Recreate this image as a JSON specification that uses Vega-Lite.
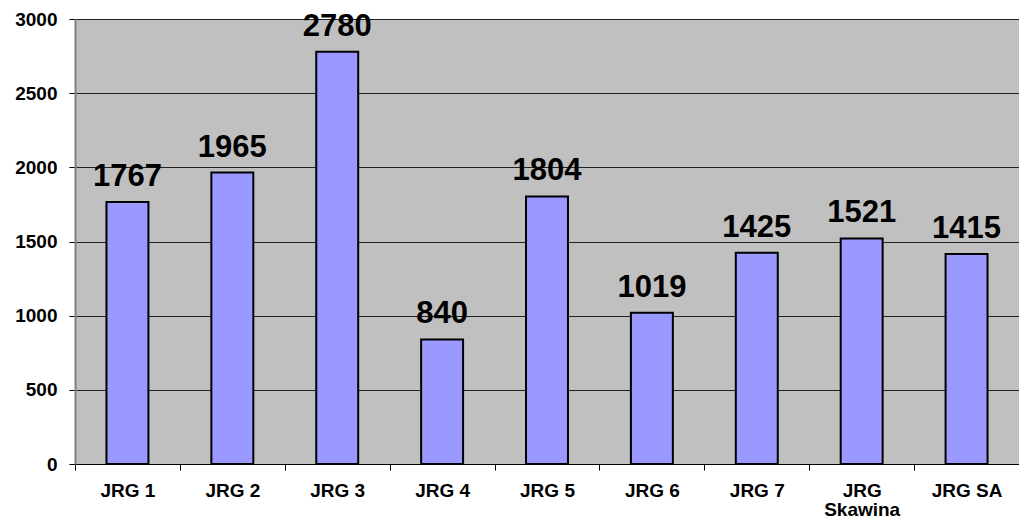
{
  "$schema": "https://vega.github.io/schema/vega-lite/v6.json",
  "width": 944,
  "height": 445,
  "autosize": "none",
  "padding": {"left": 75, "top": 19, "right": 0, "bottom": 63},
  "background": "white",
  "config": {
    "view": {"fill": "#C0C0C0", "stroke": null},
    "font": "Liberation Sans"
  },
  "data": {
    "values": [
      {"jrg": "JRG 1", "value": 1767},
      {"jrg": "JRG 2", "value": 1965},
      {"jrg": "JRG 3", "value": 2780},
      {"jrg": "JRG 4", "value": 840},
      {"jrg": "JRG 5", "value": 1804},
      {"jrg": "JRG 6", "value": 1019},
      {"jrg": "JRG 7", "value": 1425},
      {"jrg": "JRG Skawina", "value": 1521},
      {"jrg": "JRG SA", "value": 1415}
    ]
  },
  "encoding": {
    "x": {
      "field": "jrg",
      "type": "nominal",
      "sort": null,
      "scale": {"paddingInner": 0, "paddingOuter": 0},
      "axis": {
        "title": null,
        "labelAngle": 0,
        "labelFont": "Liberation Sans",
        "labelFontWeight": "bold",
        "labelFontSize": 19,
        "labelColor": "black",
        "labelPadding": 11,
        "labelLineHeight": 19,
        "labelExpr": "datum.label == 'JRG Skawina' ? ['JRG', 'Skawina'] : datum.label",
        "tickBand": "extent",
        "tickSize": 6,
        "tickColor": "black",
        "domainColor": "black",
        "domainWidth": 1,
        "grid": false
      }
    },
    "y": {
      "field": "value",
      "type": "quantitative",
      "scale": {"domain": [0, 3000], "nice": false},
      "axis": {
        "title": null,
        "format": "d",
        "values": [0, 500, 1000, 1500, 2000, 2500, 3000],
        "labelFont": "Liberation Sans",
        "labelFontWeight": "bold",
        "labelFontSize": 19,
        "labelColor": "black",
        "labelPadding": 12,
        "tickSize": 6,
        "tickColor": "black",
        "domainColor": "#808080",
        "domainWidth": 2,
        "grid": true,
        "gridColor": "#222222",
        "gridWidth": 1,
        "gridOpacity": 1
      }
    }
  },
  "layer": [
    {
      "mark": {"type": "bar", "width": {"band": 0.4}, "fill": "#9999FF", "stroke": "black", "strokeWidth": 2}
    },
    {
      "mark": {"type": "text", "baseline": "bottom", "dy": -9, "font": "Liberation Sans", "fontWeight": "bold", "fontSize": 31, "color": "black"},
      "encoding": {"text": {"field": "value", "type": "quantitative"}}
    }
  ]
}
